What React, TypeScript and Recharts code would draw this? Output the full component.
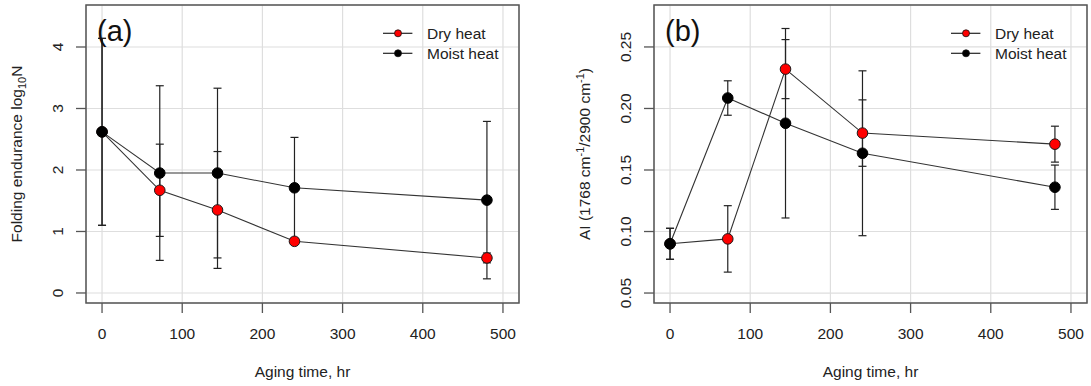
import React from 'react'
import { LineChart, Line, XAxis, YAxis, CartesianGrid, ErrorBar, ReferenceArea, Legend } from 'recharts'

// aging time of the samples, hr
const hours = [0, 72, 144, 240, 480]
const xTicks = [0, 100, 200, 300, 400, 500]

// (a) folding endurance, log10 N
const foldDry = [2.62, 1.67, 1.35, 0.84, 0.57]
const foldDryErr = [1.52, 0.75, 0.95, 0.03, 0.08]
const foldMoist = [2.62, 1.95, 1.95, 1.71, 1.51]
const foldMoistErr = [1.52, 1.42, 1.38, 0.82, 1.28]
const foldTicks = [0, 1, 2, 3, 4]

// (b) AI, 1768 / 2900 cm-1
const aiDry = [0.09, 0.094, 0.232, 0.18, 0.171]
const aiDryErr = [0.0126, 0.027, 0.024, 0.027, 0.0146]
const aiMoist = [0.09, 0.2085, 0.188, 0.1636, 0.136]
const aiMoistErr = [0.0126, 0.014, 0.077, 0.067, 0.018]
const aiTicks = [0.05, 0.1, 0.15, 0.2, 0.25]

const seriesNames = ['Dry heat', 'Moist heat']
const seriesFills = ['#f00', '#000']

const FONT = '"Liberation Sans", Arial, sans-serif'
const INK = '#222'
const BOX = '#555'
const GRID = '#dedede'
const FS = 15.5

const W = 545
const H = 386

const buildRows = (dry: number[], dryErr: number[], moist: number[], moistErr: number[]) =>
  hours.map((h, i) => ({ h, dry: dry[i], dryErr: dryErr[i], moist: moist[i], moistErr: moistErr[i] }))

const XTick = (props: any) => {
  const { x, y, payload } = props
  return (
    <text x={x} y={y + 25.6} textAnchor="middle" fontSize={FS} fontFamily={FONT} fill={INK}>
      {payload.value}
    </text>
  )
}

const makeYTick = (fmt: (v: number) => string) => (props: any) => {
  const { x, y, payload } = props
  const bx = x - 12.7
  return (
    <text x={bx} y={y} transform={`rotate(-90 ${bx} ${y})`} textAnchor="middle" fontSize={FS} fontFamily={FONT} fill={INK}>
      {fmt(payload.value)}
    </text>
  )
}

const PanelLegend = () => (
  <svg width={140} height={42} style={{ display: 'block' }}>
    {seriesNames.map((name, i) => {
      const cy = 8.3 + 20 * i
      return (
        <g key={name}>
          <line x1={0} x2={29.4} y1={cy} y2={cy} stroke={INK} strokeWidth={1.2} />
          <circle cx={15} cy={cy} r={3.5} fill={seriesFills[i]} stroke="#111" strokeWidth={0.8} />
          <text x={44} y={cy + 5.5} fontSize={FS} fontFamily={FONT} fill={INK}>
            {name}
          </text>
        </g>
      )
    })}
  </svg>
)

interface PanelProps {
  rows: ReturnType<typeof buildRows>
  yDomain: [number, number]
  yTicks: number[]
  fmt: (v: number) => string
  yAxisWidth: number
  marginRight: number
  letter: string
  yTitle: React.ReactNode
  yTitleX: number
}

function Panel({ rows, yDomain, yTicks, fmt, yAxisWidth, marginRight, letter, yTitle, yTitleX }: PanelProps) {
  const boxTop = 5
  const boxBottom = 303
  const boxRight = W - marginRight
  const midX = (yAxisWidth + boxRight) / 2
  const midY = (boxTop + boxBottom) / 2
  return (
    <div style={{ position: 'relative', width: W, height: H }}>
      <LineChart width={W} height={H} data={rows} margin={{ top: boxTop, right: marginRight, bottom: 0, left: 0 }}>
        <CartesianGrid stroke={GRID} strokeWidth={1.2} />
        <XAxis
          dataKey="h"
          type="number"
          domain={[-20, 520]}
          ticks={xTicks}
          allowDataOverflow
          height={H - boxBottom}
          axisLine={false}
          tickLine={{ stroke: BOX, strokeWidth: 1.3 }}
          tickSize={10}
          tickMargin={0}
          tick={<XTick />}
        />
        <YAxis
          type="number"
          domain={yDomain}
          ticks={yTicks}
          allowDataOverflow
          width={yAxisWidth}
          axisLine={false}
          tickLine={{ stroke: BOX, strokeWidth: 1.3 }}
          tickSize={10}
          tickMargin={0}
          tick={makeYTick(fmt)}
        />
        <ReferenceArea x1={-20} x2={520} y1={yDomain[0]} y2={yDomain[1]} fill="none" fillOpacity={0} stroke={BOX} strokeWidth={1.5} />
        <Line
          dataKey="dry"
          type="linear"
          stroke="#333"
          strokeWidth={1.1}
          dot={{ r: 5.3, fill: seriesFills[0], stroke: '#1a1a1a', strokeWidth: 1 }}
          activeDot={false}
          isAnimationActive={false}
        >
          <ErrorBar dataKey="dryErr" width={4} stroke={INK} strokeWidth={1.2} direction="y" isAnimationActive={false} />
        </Line>
        <Line
          dataKey="moist"
          type="linear"
          stroke="#333"
          strokeWidth={1.1}
          dot={{ r: 5.3, fill: seriesFills[1], stroke: '#000', strokeWidth: 1 }}
          activeDot={false}
          isAnimationActive={false}
        >
          <ErrorBar dataKey="moistErr" width={4} stroke={INK} strokeWidth={1.2} direction="y" isAnimationActive={false} />
        </Line>
        <Legend
          layout="vertical"
          align="center"
          verticalAlign="middle"
          content={<PanelLegend />}
          wrapperStyle={{ position: 'absolute', left: boxRight - 135.7, top: 25, width: 140, height: 42 }}
        />
      </LineChart>
      <svg width={W} height={H} style={{ position: 'absolute', left: 0, top: 0, pointerEvents: 'none' }}>
        <text x={yAxisWidth + 11} y={40.5} fontSize={29} fontFamily={FONT} fill="#111">
          {letter}
        </text>
        <text x={midX} y={377} textAnchor="middle" fontSize={FS} fontFamily={FONT} fill={INK}>
          Aging time, hr
        </text>
        <text
          x={yTitleX}
          y={midY}
          transform={`rotate(-90 ${yTitleX} ${midY})`}
          textAnchor="middle"
          fontSize={FS}
          fontFamily={FONT}
          fill={INK}
        >
          {yTitle}
        </text>
      </svg>
    </div>
  )
}

export default function App() {
  const foldRows = buildRows(foldDry, foldDryErr, foldMoist, foldMoistErr)
  const aiRows = buildRows(aiDry, aiDryErr, aiMoist, aiMoistErr)
  return (
    <div style={{ position: 'absolute', left: 0, top: 0, width: 1091, height: 386, background: '#fff', display: 'flex' }}>
      <Panel
        rows={foldRows}
        yDomain={[-0.163, 4.683]}
        yTicks={foldTicks}
        fmt={(v) => String(v)}
        yAxisWidth={86}
        marginRight={26}
        letter="(a)"
        yTitleX={22}
        yTitle={
          <>
            Folding endurance log
            <tspan dy={4} fontSize={11}>10</tspan>
            <tspan dy={-4}>N</tspan>
          </>
        }
      />
      <div style={{ width: 1 }} />
      <Panel
        rows={aiRows}
        yDomain={[0.0419, 0.2841]}
        yTicks={aiTicks}
        fmt={(v) => v.toFixed(2)}
        yAxisWidth={108}
        marginRight={4}
        letter="(b)"
        yTitleX={44}
        yTitle={
          <>
            AI (1768 cm
            <tspan dy={-6} fontSize={11}>-1</tspan>
            <tspan dy={6}>/2900 cm</tspan>
            <tspan dy={-6} fontSize={11}>-1</tspan>
            <tspan dy={6}>)</tspan>
          </>
        }
      />
    </div>
  )
}
